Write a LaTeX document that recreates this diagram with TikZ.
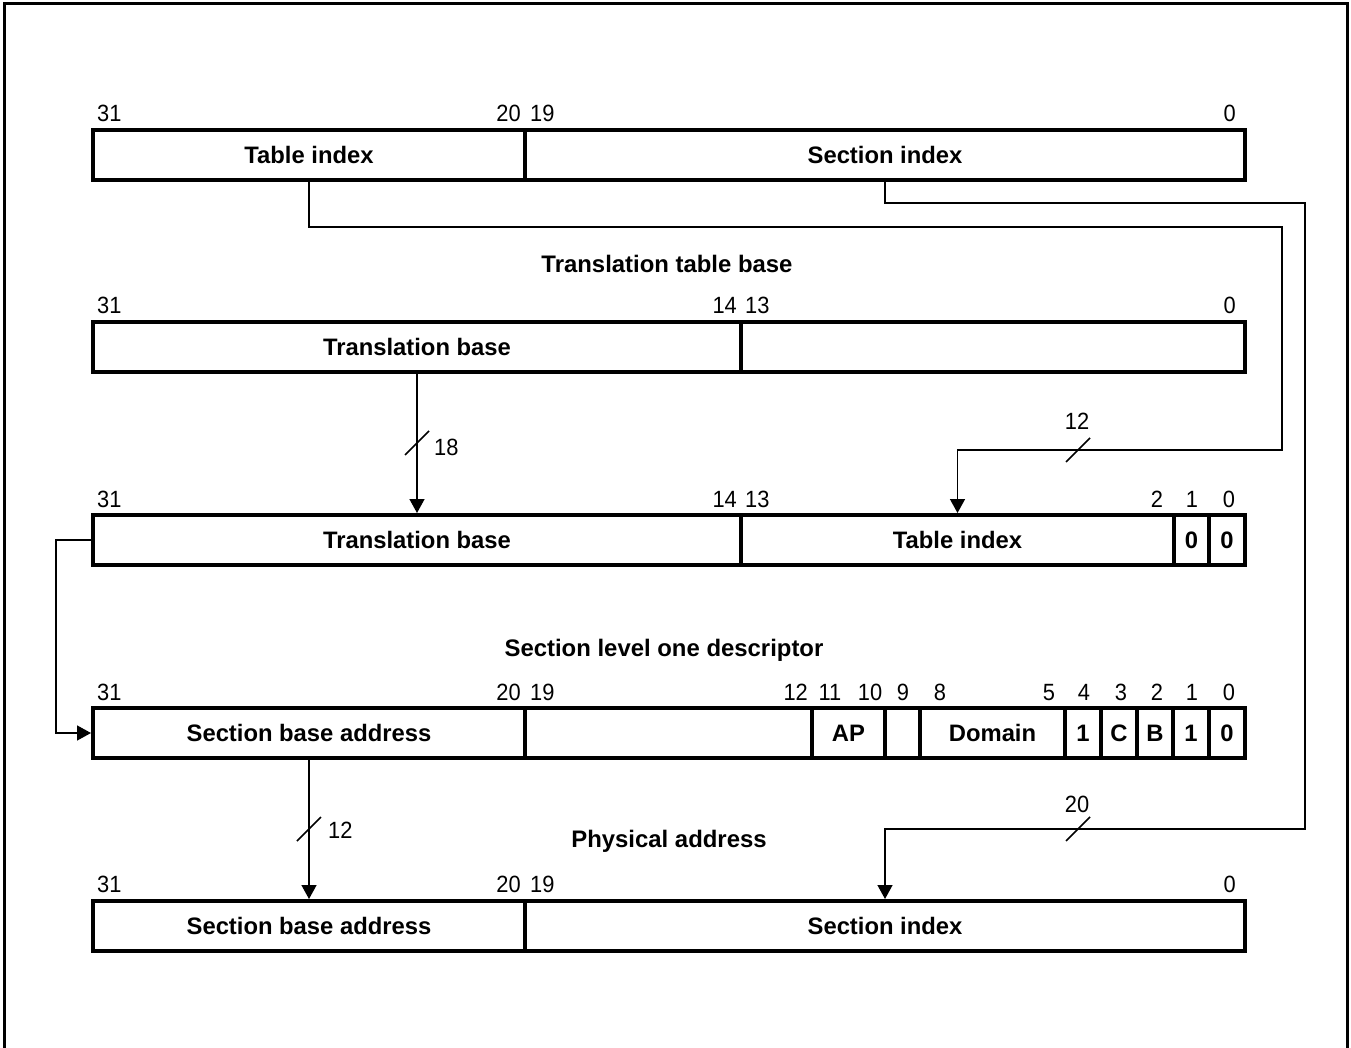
\documentclass[tikz,border=0pt]{standalone}
\usepackage{fontspec}
\setmainfont{Liberation Sans}
\newfontfamily\numfont[FakeStretch=0.93]{Liberation Sans}
\usetikzlibrary{arrows.meta,calc}
\newcommand\fieldcell[6]{\node[cellbox, minimum width={#3-#2}, minimum height={#5-#4}] (#1) at ({(#2+#3)/2},{(#4+#5)/2}) {#6};}
\begin{document}
\begin{tikzpicture}[x=1pt,y=-1pt,
  cellbox/.style={draw, line width=4pt, inner sep=0pt, outer sep=0pt, font=\fontsize{23.8}{28}\selectfont\bfseries, text height=17pt, text depth=0pt},
  bitnum/.style={font=\numfont\fontsize{23.5}{28}\selectfont, inner sep=0pt},
  titletext/.style={font=\fontsize{23.9}{28}\selectfont\bfseries, inner sep=0pt, text height=17pt, text depth=0pt},
  conn/.style={line width=1.5pt},
  arr/.style={conn, -{Triangle[length=14pt,width=15pt]}, shorten >=2pt}]
\useasboundingbox (0,0) rectangle (1351,1048);
\draw[line width=3pt] (4,1048) -- (4,4) -- (1347,4) -- (1347,1048);

% Row 1
\fieldcell{r1a}{93}{525}{130}{180}{Table index}
\fieldcell{r1b}{525}{1245}{130}{180}{Section index}
\node[bitnum, anchor=base west] (n1a) at (97,122) {31};
\node[bitnum, anchor=base east] (n1b) at (521,122) {20};
\node[bitnum, anchor=base west] (n1c) at (530,122) {19};
\node[bitnum, anchor=base east] (n1d) at (1236,122) {0};

% Row 2
\node[titletext] (t2) at (667,264) {Translation table base};
\fieldcell{r2a}{93}{741}{322}{372}{Translation base}
\fieldcell{r2b}{741}{1245}{322}{372}{}
\node[bitnum, anchor=base west] (n2a) at (97,314) {31};
\node[bitnum, anchor=base east] (n2b) at (737,314) {14};
\node[bitnum, anchor=base west] (n2c) at (745,314) {13};
\node[bitnum, anchor=base east] (n2d) at (1236,314) {0};

% Row 3
\fieldcell{r3a}{93}{741}{515}{565}{Translation base}
\fieldcell{r3b}{741}{1174}{515}{565}{Table index}
\fieldcell{r3c}{1174}{1209}{515}{565}{0}
\fieldcell{r3d}{1209}{1245}{515}{565}{0}
\node[bitnum, anchor=base west] (n3a) at (97,507) {31};
\node[bitnum, anchor=base east] (n3b) at (737,507) {14};
\node[bitnum, anchor=base west] (n3c) at (745,507) {13};
\node[bitnum, anchor=base] (n3d) at (1157,507) {2};
\node[bitnum, anchor=base] (n3e) at (1192,507) {1};
\node[bitnum, anchor=base] (n3f) at (1229,507) {0};

% Row 4
\node[titletext] (t4) at (664,648) {Section level one descriptor};
\fieldcell{r4a}{93}{525}{708}{758}{Section base address}
\fieldcell{r4b}{525}{812}{708}{758}{}
\fieldcell{r4c}{812}{885}{708}{758}{AP}
\fieldcell{r4d}{885}{920}{708}{758}{}
\fieldcell{r4e}{920}{1065}{708}{758}{Domain}
\fieldcell{r4f}{1065}{1101}{708}{758}{1}
\fieldcell{r4g}{1101}{1137}{708}{758}{C}
\fieldcell{r4h}{1137}{1173}{708}{758}{B}
\fieldcell{r4i}{1173}{1209}{708}{758}{1}
\fieldcell{r4j}{1209}{1245}{708}{758}{0}
\node[bitnum, anchor=base west] (n4a) at (97,700) {31};
\node[bitnum, anchor=base east] (n4b) at (521,700) {20};
\node[bitnum, anchor=base west] (n4c) at (530,700) {19};
\node[bitnum, anchor=base east] (n4d) at (808,700) {12};
\node[bitnum, anchor=base] (n4e) at (830,700) {11};
\node[bitnum, anchor=base] (n4f) at (870,700) {10};
\node[bitnum, anchor=base] (n4g) at (903,700) {9};
\node[bitnum, anchor=base] (n4h) at (940,700) {8};
\node[bitnum, anchor=base] (n4i) at (1049,700) {5};
\node[bitnum, anchor=base] (n4j) at (1084,700) {4};
\node[bitnum, anchor=base] (n4k) at (1121,700) {3};
\node[bitnum, anchor=base] (n4l) at (1157,700) {2};
\node[bitnum, anchor=base] (n4m) at (1192,700) {1};
\node[bitnum, anchor=base] (n4n) at (1229,700) {0};

% Row 5
\node[titletext] (t5) at (669,839) {Physical address};
\fieldcell{r5a}{93}{525}{901}{951}{Section base address}
\fieldcell{r5b}{525}{1245}{901}{951}{Section index}
\node[bitnum, anchor=base west] (n5a) at (97,892) {31};
\node[bitnum, anchor=base east] (n5b) at (521,892) {20};
\node[bitnum, anchor=base west] (n5c) at (530,892) {19};
\node[bitnum, anchor=base east] (n5d) at (1236,892) {0};

% Connectors
\coordinate (b1) at (1282,450);
\coordinate (b2) at (1305,829);
\draw[arr] (r1a.south) -- ++(0,47) -| (b1) -| (r3b.north);
\draw[arr] (r1b.south) -- ++(0,23) -| (b2) -| (r5b.north);
\draw[arr] (r2a.south) -- (r3a.north);
\draw[arr] (r3a.west) -- ++(-37,0) |- (r4a.west);
\draw[arr] (r4a.south) -- (r5a.north);

% Bus width marks
\draw[conn] (405,455) -- (429,431);
\node[bitnum, anchor=base west] (w18) at (434,455) {18};
\draw[conn] (1066,462) -- (1090,438);
\node[bitnum, anchor=base] (w12a) at (1077,429) {12};
\draw[conn] (297,841) -- (321,817);
\node[bitnum, anchor=base west] (w12b) at (328,838) {12};
\draw[conn] (1066,841) -- (1090,817);
\node[bitnum, anchor=base] (w20) at (1077,812) {20};
\end{tikzpicture}
\end{document}
